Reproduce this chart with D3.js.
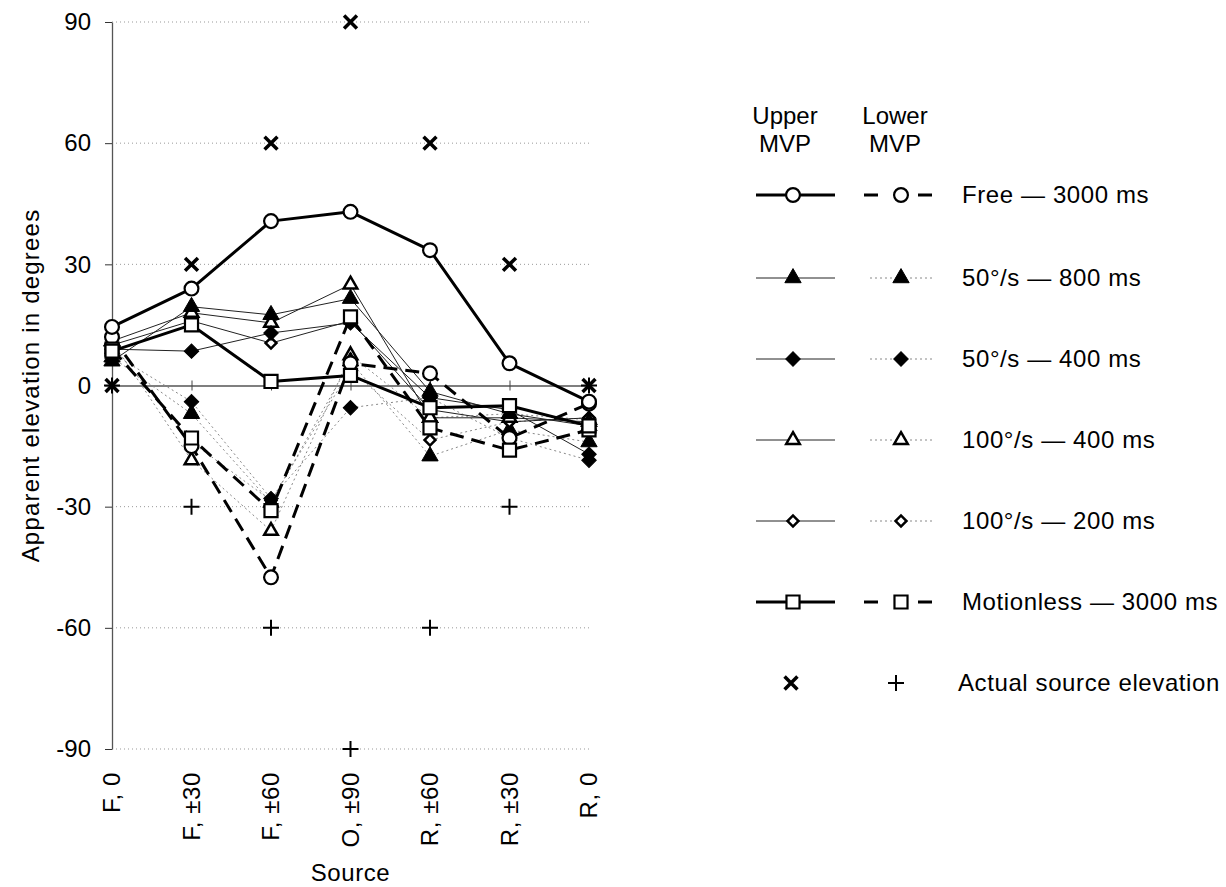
<!DOCTYPE html>
<html>
<head>
<meta charset="utf-8">
<script src="https://cdn.jsdelivr.net/npm/d3@7"></script>
<style>
  html, body { margin: 0; padding: 0; background: #fff; }
  svg { display: block; font-family: "Liberation Sans", Arial, Helvetica, sans-serif; }
</style>
</head>
<body>
<svg id="chart" width="1226" height="887"></svg>
<script>
// ---- Data ----
const categories = ["F, 0", "F, \u00b130", "F, \u00b160", "O, \u00b190", "R, \u00b160", "R, \u00b130", "R, 0"];
const yTicks = [-90, -60, -30, 0, 30, 60, 90];

// Upper MVP (solid lines)
const upperFree       = [14.5, 24, 40.7, 43, 33.5, 5.5, -4];
const upper50_800     = [6, 19.5, 17.5, 21.5, -1.5, -7, -10];
const upper50_400     = [9, 8.5, 13, 15.5, -3, -6, -17];
const upper100_400    = [11, 18, 15.5, 25, -8, -8, -9];
const upper100_200    = [10, 16, 10.5, 16, -6, -9, -8];
const upperMotionless = [8.5, 15, 1, 2.5, -5.5, -5, -10];

// Lower MVP (dashed / dotted lines)
const lowerFree       = [12, -15, -47.5, 5.5, 3, -13, -4.5];
const lower50_800     = [7, -7, -29, 6, -17.5, -11, -14];
const lower50_400     = [8, -4, -28, -5.5, -3, -13, -18.5];
const lower100_400    = [11, -18.5, -36, 7.5, -8, -7, -8.5];
const lower100_200    = [10, -14, -28.5, 4, -13.5, -9, -8];
const lowerMotionless = [9, -13, -31, 17, -10.5, -16, -11];

// Actual source elevation
const actualUpper = [0, 30, 60, 90, 60, 30, 0];
const actualLower = [0, -30, -60, -90, -60, -30, 0];

const legendLabels = ["Free \u2014 3000 ms", "50\u00b0/s \u2014 800 ms", "50\u00b0/s \u2014 400 ms",
                      "100\u00b0/s \u2014 400 ms", "100\u00b0/s \u2014 200 ms", "Motionless \u2014 3000 ms",
                      "Actual source elevation"];

// ---- Styles ----
const styleThickSolid = { width: 3, dash: null, color: "#000" };
const styleThinSolid  = { width: 1, dash: null, color: "#222" };
const styleThickDash  = { width: 3, dash: "14,8", color: "#000" };
const styleDotted     = { width: 1, dash: "2,3", color: "#888" };

const markers = {
  circle:   { type: d3.symbolCircle,   size: 150, fill: "#fff", stroke: 2.2, rot: 0 },
  triFill:  { type: d3.symbolTriangle, size: 115, fill: "#000", stroke: 1,   rot: 0 },
  diaFill:  { type: d3.symbolSquare,   size: 105, fill: "#000", stroke: 1,   rot: 45 },
  triOpen:  { type: d3.symbolTriangle, size: 80,  fill: "#fff", stroke: 2.5, rot: 0 },
  diaOpen:  { type: d3.symbolSquare,   size: 60,  fill: "#fff", stroke: 2.5, rot: 45 },
  square:   { type: d3.symbolSquare,   size: 170, fill: "#fff", stroke: 2.2, rot: 0 }
};

const series = [
  { vals: lower100_200,    style: styleDotted,    marker: "diaOpen" },
  { vals: lower100_400,    style: styleDotted,    marker: "triOpen" },
  { vals: lower50_400,     style: styleDotted,    marker: "diaFill" },
  { vals: lower50_800,     style: styleDotted,    marker: "triFill" },
  { vals: upper100_200,    style: styleThinSolid, marker: "diaOpen" },
  { vals: upper100_400,    style: styleThinSolid, marker: "triOpen" },
  { vals: upper50_400,     style: styleThinSolid, marker: "diaFill" },
  { vals: upper50_800,     style: styleThinSolid, marker: "triFill" },
  { vals: lowerFree,       style: styleThickDash, marker: "circle" },
  { vals: lowerMotionless, style: styleThickDash, marker: "square" },
  { vals: upperMotionless, style: styleThickSolid, marker: "square" },
  { vals: upperFree,       style: styleThickSolid, marker: "circle" }
];

const legendRows = [
  { up: { style: styleThickSolid, marker: "circle" }, lo: { style: styleThickDash, marker: "circle" } },
  { up: { style: styleThinSolid,  marker: "triFill" }, lo: { style: styleDotted, marker: "triFill" } },
  { up: { style: styleThinSolid,  marker: "diaFill" }, lo: { style: styleDotted, marker: "diaFill" } },
  { up: { style: styleThinSolid,  marker: "triOpen" }, lo: { style: styleDotted, marker: "triOpen" } },
  { up: { style: styleThinSolid,  marker: "diaOpen" }, lo: { style: styleDotted, marker: "diaOpen" } },
  { up: { style: styleThickSolid, marker: "square" }, lo: { style: styleThickDash, marker: "square" } }
];

// ---- Layout ----
const svg = d3.select("#chart");
const x = d3.scalePoint().domain(categories).range([112, 589]);
const y = d3.scaleLinear().domain([-90, 90]).range([749, 22]);

const fontSize = 24;
const ls = "0.6px";

// gridlines
svg.append("g").selectAll("line").data(yTicks.filter(d => d !== 0)).join("line")
  .attr("x1", 112).attr("x2", 590)
  .attr("y1", d => y(d)).attr("y2", d => y(d))
  .attr("stroke", "#999").attr("stroke-width", 1).attr("stroke-dasharray", "1,3");

// zero line with crossing ticks
const xAxis = svg.append("g").attr("transform", `translate(0,${y(0)})`)
  .call(d3.axisBottom(x).tickSize(5).tickSizeOuter(0).tickFormat(""));
xAxis.select(".domain").attr("stroke", "#000").attr("stroke-width", 1.2);
xAxis.selectAll(".tick line").attr("y1", -5).attr("y2", 5).attr("stroke", "#444");

// y axis
const yAxis = svg.append("g").attr("transform", "translate(112,0)")
  .call(d3.axisLeft(y).tickValues(yTicks).tickSize(7).tickSizeOuter(0).tickPadding(14)
        .tickFormat(d => String(d)));
yAxis.select(".domain").attr("stroke", "#555").attr("stroke-width", 1.3);
yAxis.selectAll(".tick line").attr("stroke", "#333");
yAxis.selectAll(".tick text").attr("font-size", fontSize).attr("fill", "#000")
  .attr("font-family", "'Liberation Sans', Arial, sans-serif");

// x tick labels rotated
svg.append("g").selectAll("text").data(categories).join("text")
  .attr("transform", d => `translate(${x(d)},772) rotate(-90)`)
  .attr("text-anchor", "end").attr("dy", "0.35em")
  .attr("font-size", fontSize).attr("letter-spacing", ls).text(d => d);

// axis titles
svg.append("text").attr("x", x(categories[3])).attr("y", 881)
  .attr("text-anchor", "middle").attr("font-size", fontSize).attr("letter-spacing", ls).text("Source");
svg.append("text").attr("transform", `translate(31,${y(0)}) rotate(-90)`)
  .attr("text-anchor", "middle").attr("dy", "0.35em").attr("font-size", fontSize)
  .attr("letter-spacing", "1.2px")
  .text("Apparent elevation in degrees");

// lines
const line = d3.line().x((d, i) => x(categories[i])).y(d => y(d));
const gLines = svg.append("g");
series.forEach(s => {
  gLines.append("path").datum(s.vals).attr("d", line)
    .attr("fill", "none").attr("stroke", s.style.color).attr("stroke-width", s.style.width)
    .attr("stroke-dasharray", s.style.dash).attr("stroke-linejoin", "round");
});

function drawMarker(g, key, cx, cy) {
  const m = markers[key];
  g.append("path").attr("d", d3.symbol().type(m.type).size(m.size)())
    .attr("transform", `translate(${cx},${cy}) rotate(${m.rot})`)
    .attr("fill", m.fill).attr("stroke", "#000").attr("stroke-width", m.stroke)
    .attr("stroke-linejoin", "miter");
}
function drawCross(g, cx, cy) {
  g.append("path").attr("d", d3.symbol().type(d3.symbolX).size(110)())
    .attr("transform", `translate(${cx},${cy})`)
    .attr("stroke", "#000").attr("stroke-width", 3.5).attr("fill", "none");
}
function drawPlus(g, cx, cy) {
  g.append("path").attr("d", `M-8,0H8M0,-8V8`)
    .attr("transform", `translate(${cx},${cy})`)
    .attr("stroke", "#000").attr("stroke-width", 2).attr("fill", "none");
}

// markers
const gMarks = svg.append("g");
series.forEach(s => {
  s.vals.forEach((v, i) => drawMarker(gMarks, s.marker, x(categories[i]), y(v)));
});
actualUpper.forEach((v, i) => drawCross(gMarks, x(categories[i]), y(v)));
actualLower.forEach((v, i) => drawPlus(gMarks, x(categories[i]), y(v)));

// ---- Legend ----
const lg = svg.append("g");
[["Upper", 785], ["Lower", 895]].forEach(([t, cx]) => {
  lg.append("text").attr("x", cx).attr("y", 124).attr("text-anchor", "middle").attr("font-size", fontSize).text(t);
  lg.append("text").attr("x", cx).attr("y", 152).attr("text-anchor", "middle").attr("font-size", fontSize).text("MVP");
});
const rowY = [195, 278, 359, 440, 521, 602, 683];
function legendSample(entry, x1, x2, cx, yy, dashOverride) {
  lg.append("line").attr("x1", x1).attr("x2", x2).attr("y1", yy).attr("y2", yy)
    .attr("stroke", entry.style.color).attr("stroke-width", entry.style.width)
    .attr("stroke-dasharray", dashOverride || entry.style.dash);
  drawMarker(lg, entry.marker, cx, yy);
}
legendRows.forEach((r, i) => {
  const yy = rowY[i];
  legendSample(r.up, 756, 835, 793, yy);
  if (r.lo.style === styleThickDash) legendSample(r.lo, 864, 935, 901, yy, "14,40");
  else legendSample(r.lo, 870, 935, 901, yy);
  lg.append("text").attr("x", 962).attr("y", yy).attr("dy", "0.35em").attr("font-size", fontSize)
    .attr("letter-spacing", ls).text(legendLabels[i]);
});
drawCross(lg, 791, rowY[6]);
drawPlus(lg, 896, rowY[6]);
lg.append("text").attr("x", 958).attr("y", rowY[6]).attr("dy", "0.35em").attr("font-size", fontSize)
  .attr("letter-spacing", ls).text(legendLabels[6]);
</script>
</body>
</html>
